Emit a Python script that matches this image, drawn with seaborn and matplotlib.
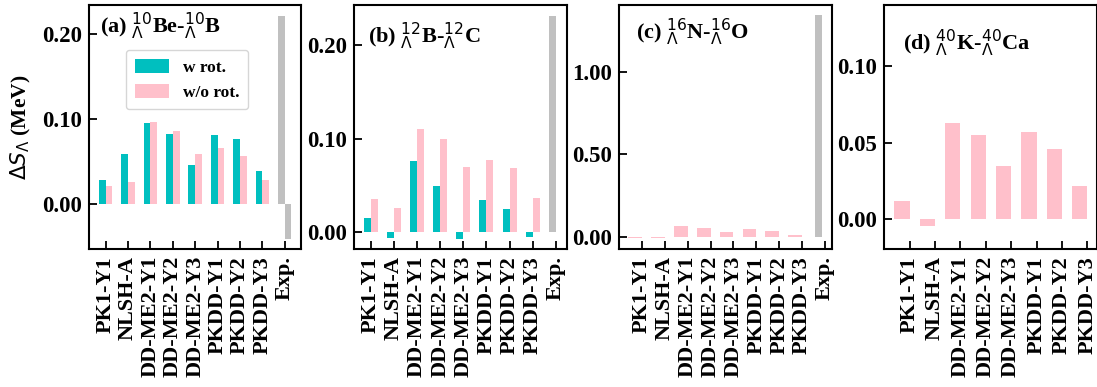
import numpy as np
import pandas as pd
import matplotlib
matplotlib.use("Agg")
import matplotlib.pyplot as plt
from matplotlib.ticker import FormatStrFormatter
import seaborn as sns

# ---------- DATA ----------
models = ["PK1-Y1", "NLSH-A", "DD-ME2-Y1", "DD-ME2-Y2", "DD-ME2-Y3",
          "PKDD-Y1", "PKDD-Y2", "PKDD-Y3"]

# (a) 10Be-10B
a_wrot = [0.028, 0.059, 0.095, 0.082, 0.046, 0.081, 0.076, 0.039]
a_wo = [0.021, 0.026, 0.096, 0.086, 0.059, 0.066, 0.056, 0.028]
a_exp = [0.221, -0.041]

# (b) 12B-12C
b_wrot = [0.015, -0.006, 0.076, 0.049, -0.007, 0.034, 0.025, -0.005]
b_wo = [0.035, 0.026, 0.110, 0.100, 0.070, 0.077, 0.068, 0.037]
b_exp = 0.231

# (c) 16N-16O
c_wo = [-0.006, -0.006, 0.065, 0.054, 0.030, 0.048, 0.035, 0.012]
c_exp = 1.34

# (d) 40K-40Ca
d_wo = [0.012, -0.004, 0.063, 0.055, 0.035, 0.057, 0.046, 0.022]

titles = [r"(a) ${}^{10}_{\Lambda}$Be-${}^{10}_{\Lambda}$B",
          r"(b) ${}^{12}_{\Lambda}$B-${}^{12}_{\Lambda}$C",
          r"(c) ${}^{16}_{\Lambda}$N-${}^{16}_{\Lambda}$O",
          r"(d) ${}^{40}_{\Lambda}$K-${}^{40}_{\Lambda}$Ca"]

C_ROT = "#00BFBF"
C_NOROT = "pink"
C_EXP = "silver"

# ---------- STYLE ----------
sns.set_style("ticks")
plt.rcParams["font.family"] = ["Liberation Serif", "DejaVu Serif"]
plt.rcParams["mathtext.fontset"] = "dejavusans"
plt.rcParams["axes.linewidth"] = 1.5
for key in ["text.color", "axes.labelcolor", "xtick.color", "ytick.color",
            "axes.edgecolor"]:
    plt.rcParams[key] = "black"


def bars(ax, pos, vals, w, color, label=None):
    # bar width in data units; seaborn scales width by the min spacing
    pos = np.atleast_1d(np.asarray(pos, dtype=float))
    unit = np.min(np.diff(np.unique(pos))) if len(np.unique(pos)) > 1 else 1.0
    df = pd.DataFrame({"x": pos, "y": np.atleast_1d(vals)})
    sns.barplot(data=df, x="x", y="y", ax=ax, native_scale=True, orient="x",
                width=w / unit, color=color, saturation=1, errorbar=None,
                linewidth=0, label=label)


fig, axes = plt.subplots(1, 4, figsize=(10.97, 3.87), dpi=100)
fig.subplots_adjust(left=0.0811, right=0.9997, bottom=0.3566, top=0.9879,
                    wspace=0.2475)

idx = np.arange(len(models))

# (a)
ax = axes[0]
bars(ax, idx - 0.15, a_wrot, 0.3, C_ROT, "w rot.")
bars(ax, idx + 0.15, a_wo, 0.3, C_NOROT, "w/o rot.")
bars(ax, [8 - 0.15], [a_exp[0]], 0.3, C_EXP)
bars(ax, [8 + 0.15], [a_exp[1]], 0.3, C_EXP)
ax.set_xlim(-0.75, 8.75)
ax.set_ylim(-0.053, 0.234)
ax.set_yticks([0.0, 0.1, 0.2])

# (b)
ax = axes[1]
bars(ax, idx - 0.15, b_wrot, 0.3, C_ROT)
bars(ax, idx + 0.15, b_wo, 0.3, C_NOROT)
bars(ax, [8 - 0.15], [b_exp], 0.3, C_EXP)
ax.set_xlim(-0.72, 8.46)
ax.set_ylim(-0.018, 0.243)
ax.set_yticks([0.0, 0.1, 0.2])

# (c)
ax = axes[2]
bars(ax, idx - 0.3, c_wo, 0.6, C_NOROT)
bars(ax, [8 - 0.3], [c_exp], 0.3, C_EXP)
ax.set_xlim(-1.0, 8.29)
ax.set_ylim(-0.074, 1.405)
ax.set_yticks([0.0, 0.5, 1.0])

# (d)
ax = axes[3]
bars(ax, idx - 0.3, d_wo, 0.6, C_NOROT)
ax.set_xlim(-1.0, 7.37)
ax.set_ylim(-0.0193, 0.1398)
ax.set_yticks([0.0, 0.05, 0.10])

title_pos = [(0.05, 0.913), (0.064, 0.872), (0.079, 0.888), (0.087, 0.843)]
for i, ax in enumerate(axes):
    labels = models + (["Exp."] if i < 3 else [])
    ax.set_xticks(np.arange(len(labels)))
    ax.set_xticklabels(labels, rotation=90, fontsize=16, fontweight="bold")
    ax.yaxis.set_major_formatter(FormatStrFormatter("%.2f"))
    for t in ax.get_yticklabels():
        t.set_fontsize(16.5)
        t.set_fontweight("bold")
    ax.tick_params(direction="in", length=5.5, width=1.3, pad=5,
                   top=False, right=False, colors="black")
    ax.set_xlabel("")
    ax.set_ylabel("")
    for s in ax.spines.values():
        s.set_linewidth(1.5)
        s.set_color("black")
        s.set_visible(True)
    tx, ty = title_pos[i]
    ax.text(tx, ty, titles[i], transform=ax.transAxes, fontsize=16,
            fontweight="bold", va="center", ha="left", color="black")

axes[0].set_ylabel(r"$\Delta S_{\Lambda}$ (MeV)", fontsize=15.5,
                   fontweight="bold", color="black")
axes[0].yaxis.set_label_coords(-0.265, 0.5)
axes[0].legend(loc="upper left", bbox_to_anchor=(0.174, 0.815),
               borderaxespad=0, prop={"weight": "bold", "size": 12.5},
               handlelength=2.0, handleheight=0.9, borderpad=0.5,
               labelspacing=0.45)

plt.savefig("out.png", dpi=100)
plt.close()
